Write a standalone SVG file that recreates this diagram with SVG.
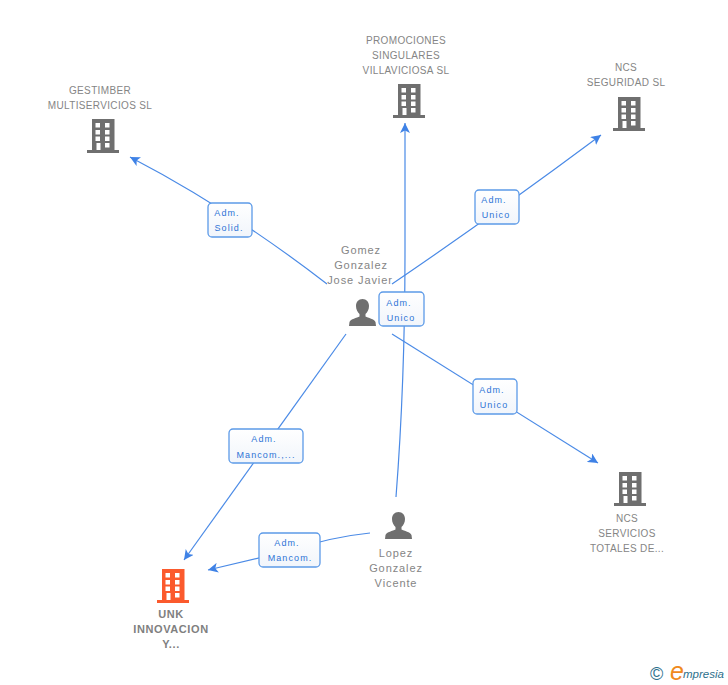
<svg xmlns="http://www.w3.org/2000/svg" width="728" height="685" viewBox="0 0 728 685">
<style>
text{font-family:"Liberation Sans",Arial,sans-serif}
.n{font-size:10px;fill:#858585;text-anchor:middle;letter-spacing:.35px}
.p{font-size:11px;fill:#858585;text-anchor:middle;letter-spacing:.9px}
.b{font-size:11px;font-weight:bold;fill:#808080;text-anchor:middle;letter-spacing:.6px}
.l{font-size:9px;fill:#2e74d6;text-anchor:middle;letter-spacing:1.1px}
.box{fill:url(#g);stroke:#5c9ae8;stroke-width:1.3}
.c{fill:none;stroke:#4a8ae6;stroke-width:1.2}
.w{fill:#fff}
</style>
<defs>
<linearGradient id="g" x1="0" y1="0" x2="0" y2="1"><stop offset="0" stop-color="#fff"/><stop offset="1" stop-color="#f1f5fb"/></linearGradient>
<marker id="a" markerWidth="12" markerHeight="10" refX="10" refY="5" orient="auto" markerUnits="userSpaceOnUse"><path d="M0 0L10 5L0 10L2.500 5Z" fill="#3f82e6"/></marker>
<g id="bld">
<rect x="0" y="0" width="22.500" height="32" fill="currentColor"/>
<rect x="-5" y="31" width="32" height="3" fill="currentColor"/>
<g class="w"><rect x="3.500" y="4" width="4.500" height="4.500"/><rect x="13" y="4" width="4.500" height="4.500"/><rect x="3.500" y="11" width="4.500" height="4.500"/><rect x="13" y="11" width="4.500" height="4.500"/><rect x="3.500" y="17.500" width="4.500" height="4.500"/><rect x="13" y="17.500" width="4.500" height="4.500"/><rect x="4.500" y="24" width="4" height="7"/><rect x="13" y="24" width="4.500" height="4.500"/></g>
</g>
<path id="per" d="M13.500 0C9.500 0 7 3 7 7C7 10.500 8.500 13 10.500 15V17.500C8 19 1.500 20 .5 23L0 27H27L26.500 23C25.500 20 19 19 16.500 17.500V15C18.500 13 20 10.500 20 7C20 3 17.500 0 13.500 0Z" fill="#6f6f6f"/>
</defs>
<rect width="728" height="685" fill="#fff"/>
<g id="connectors">
<path class="c" d="M327 284Q230 209 130 157" marker-end="url(#a)"/>
<path class="c" d="M392 284Q495 214 601 135" marker-end="url(#a)"/>
<path class="c" d="M396 497C402 420 405 340 405 250L405 123" marker-end="url(#a)"/>
<path class="c" d="M392 334L598 463" marker-end="url(#a)"/>
<path class="c" d="M346 334L184 560" marker-end="url(#a)"/>
<path class="c" d="M370 533Q330 537 289 551L208 570" marker-end="url(#a)"/>
</g>
<g id="edge-labels">
<g><rect class="box" x="208" y="203" width="44" height="34" rx="4"/><text class="l" x="227" y="216">Adm.</text><text class="l" x="229" y="231">Solid.</text></g>
<g><rect class="box" x="475" y="190" width="44" height="34" rx="4"/><text class="l" x="494" y="203">Adm.</text><text class="l" x="496" y="218">Unico</text></g>
<g><rect class="box" x="379" y="292" width="45" height="34" rx="4"/><text class="l" x="399" y="306">Adm.</text><text class="l" x="401" y="321">Unico</text></g>
<g><rect class="box" x="473" y="379" width="44" height="35" rx="4"/><text class="l" x="492" y="393">Adm.</text><text class="l" x="494" y="408">Unico</text></g>
<g><rect class="box" x="229" y="429" width="74" height="34" rx="4"/><text class="l" x="264" y="442">Adm.</text><text class="l" x="266" y="458">Mancom.,...</text></g>
<g><rect class="box" x="259" y="533" width="61" height="34" rx="4"/><text class="l" x="287" y="546">Adm.</text><text class="l" x="290" y="561">Mancom.</text></g>
</g>
<g id="n-gestimber"><text class="n" x="100" y="94">GESTIMBER</text><text class="n" x="100" y="109">MULTISERVICIOS SL</text><use href="#bld" x="92" y="119" color="#6f6f6f"/></g>
<g id="n-promociones"><text class="n" x="406" y="44">PROMOCIONES</text><text class="n" x="406" y="59">SINGULARES</text><text class="n" x="406" y="74">VILLAVICIOSA SL</text><use href="#bld" x="398" y="84" color="#6f6f6f"/></g>
<g id="n-ncs-seguridad"><text class="n" x="626" y="71">NCS</text><text class="n" x="626" y="86">SEGURIDAD SL</text><use href="#bld" x="618" y="97" color="#6f6f6f"/></g>
<g id="n-ncs-servicios"><text class="n" x="627" y="522">NCS</text><text class="n" x="627" y="537">SERVICIOS</text><text class="n" x="627" y="552">TOTALES DE...</text><use href="#bld" x="619" y="472" color="#6f6f6f"/></g>
<g id="n-unk"><text class="b" x="171" y="618">UNK</text><text class="b" x="171" y="633">INNOVACION</text><text class="b" x="171" y="648">Y...</text><use href="#bld" x="162" y="569" color="#fb5a2d"/></g>
<g id="n-gomez"><text class="p" x="361" y="254">Gomez</text><text class="p" x="361" y="269">Gonzalez</text><text class="p" x="360" y="284">Jose Javier</text><use href="#per" x="349" y="299"/></g>
<g id="n-lopez"><text class="p" x="396" y="557">Lopez</text><text class="p" x="396" y="572">Gonzalez</text><text class="p" x="396" y="587">Vicente</text><use href="#per" x="385" y="512"/></g>
<g id="logo"><text x="650" y="680" font-size="18" fill="#2d6f8c">©</text><text x="670" y="680" font-size="25" font-style="italic" fill="#f08a1d">e</text><text x="683" y="678" font-size="11.500" font-style="italic" fill="#2d6f8c">mpresia</text></g>
</svg>
